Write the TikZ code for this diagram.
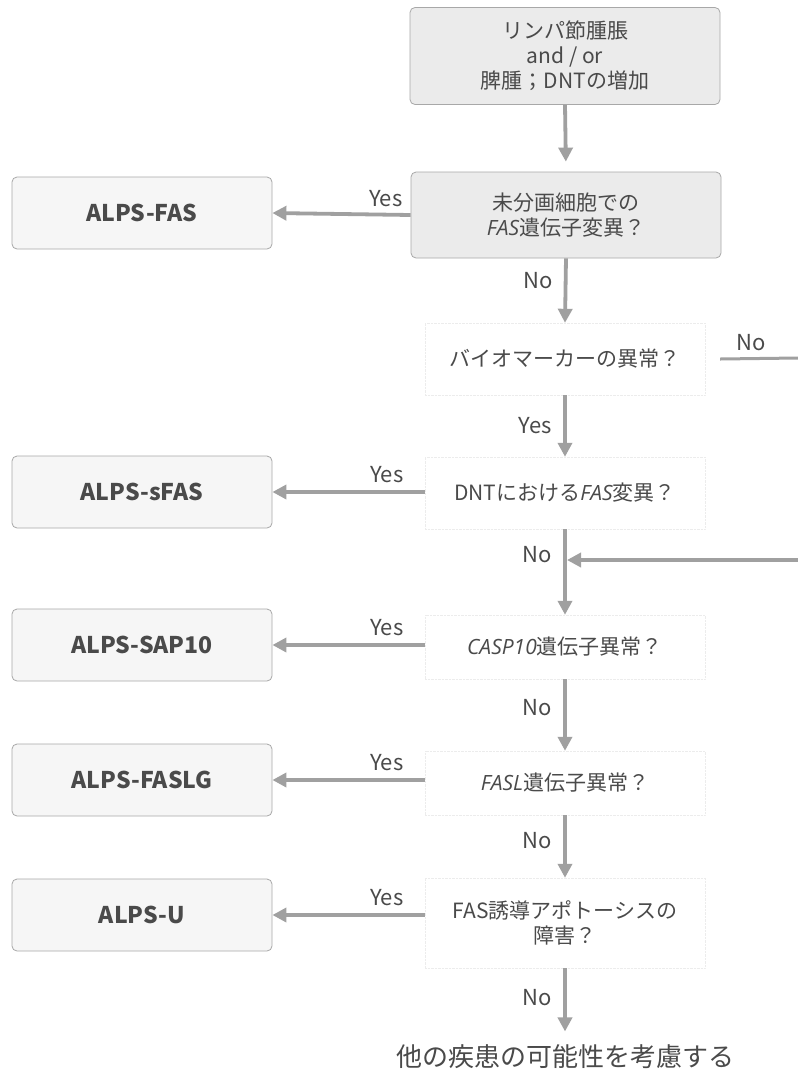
\documentclass[tikz,border=0pt]{standalone}
\usepackage{fontspec}
\setmainfont{Noto Sans CJK JP}
\newfontfamily\itl{Open Sans Italic}
\usetikzlibrary{arrows.meta}
\definecolor{txt}{HTML}{4A4A4A}
\definecolor{bx}{HTML}{A8A8A8}
\definecolor{ar}{HTML}{A0A0A0}
\tikzset{
  x=1pt, y=-1pt,
  every node/.style={text=txt, font=\fontsize{21}{25}\selectfont},
  startbox/.style={draw=bx, line width=0.8pt, rounded corners=5pt, fill=gray!16, minimum width=310pt, align=center},
  resbox/.style={draw=bx, line width=0.8pt, rounded corners=5pt, fill=gray!7, minimum width=260pt, minimum height=72pt, font=\fontsize{23}{27}\selectfont\bfseries},
  qbox/.style={draw=gray!15, densely dotted, line width=0.4pt, minimum width=280pt, align=center},
  lab/.style={font=\fontsize{22}{26}\selectfont},
  arr/.style={draw=ar, line width=3.8pt, -{Triangle[width=14pt,length=14pt]}},
  ln/.style={draw=ar, line width=3pt}
}
\begin{document}
\begin{tikzpicture}
\useasboundingbox[fill=white] (0,0) rectangle (798,1077);
% main column
\node[startbox, minimum height=97pt] (s) at (565,56) {リンパ節腫脹\\and / or\\脾腫；DNTの増加};
\node[startbox, minimum height=86pt] (q1) at (566,215) {未分画細胞での\\{\itl FAS}遺伝子変異？};
\node[qbox, minimum height=72pt] (q2) at (565,359) {バイオマーカーの異常？};
\node[qbox, minimum height=72pt] (q3) at (565,493) {DNTにおける{\itl FAS}変異？};
\node[qbox, minimum height=64pt] (q4) at (565,647) {{\itl CASP10}遺伝子異常？};
\node[qbox, minimum height=64pt] (q5) at (565,783) {{\itl FASL}遺伝子異常？};
\node[qbox, minimum height=90pt] (q6) at (565,923) {FAS誘導アポトーシスの\\障害？};
\node (e) at (565,1057) {\fontsize{26}{30}\selectfont 他の疾患の可能性を考慮する};
% results
\node[resbox] (r1) at (142,213) {ALPS-FAS};
\node[resbox] (r2) at (142,492) {ALPS-sFAS};
\node[resbox] (r3) at (142,645) {ALPS-SAP10};
\node[resbox] (r4) at (142,780) {ALPS-FASLG};
\node[resbox] (r5) at (142,915) {ALPS-U};
% vertical arrows
\draw[arr, shorten >=10pt] (s.south) -- (q1.north);
\draw[arr] (q1.south) -- node[lab, left=8pt, pos=0.35] {No} (q2.north);
\draw[arr] (q2.south) -- node[lab, left=8pt] {Yes} (q3.north);
\draw[arr] (q3.south) -- node[lab, left=8pt, pos=0.3] {No} (q4.north);
\draw[arr] (q4.south) -- node[lab, left=8pt, pos=0.4] {No} (q5.north);
\draw[arr] (q5.south) -- node[lab, left=8pt, pos=0.4] {No} (q6.north);
\draw[arr, shorten >=10pt] (q6.south) -- node[lab, left=8pt, pos=0.4] {No} (e.north);
% yes arrows
\draw[arr] (q1.west) -- node[lab, above=3pt, pos=0.18] {Yes} (r1.east);
\draw[arr] (q3.west |- r2.east) -- node[lab, above=4pt, pos=0.25] {Yes} (r2.east);
\draw[arr] (q4.west |- r3.east) -- node[lab, above=4pt, pos=0.25] {Yes} (r3.east);
\draw[arr] (q5.west |- r4.east) -- node[lab, above=4pt, pos=0.25] {Yes} (r4.east);
\draw[arr] (q6.west |- r5.east) -- node[lab, above=4pt, pos=0.25] {Yes} (r5.east);
% right side No branch
\coordinate (rt) at (798,358);
\coordinate (rb) at (798,560);
\coordinate (m) at (567,560);
\draw[ln] ([xshift=15pt]q2.east) -- node[lab, above=3pt, pos=0.4] {No} (rt);
\draw[arr] (rb) -- (m);
\end{tikzpicture}
\end{document}
